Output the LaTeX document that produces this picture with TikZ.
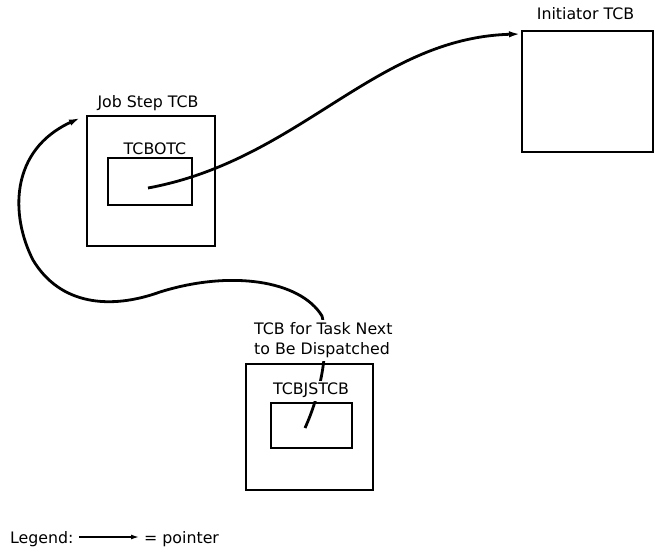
\documentclass[tikz,border=0pt]{standalone}
\usepackage{fontspec}
\setmainfont{DejaVu Sans}
\usetikzlibrary{arrows.meta}
\begin{document}
\begin{tikzpicture}[x=1pt,y=-1pt,
  box/.style={draw,line width=1.4pt,inner sep=0pt},
  ptr/.style={line width=2.8pt,-{Latex[length=11pt,width=6.5pt]}},
  lbl/.style={font=\fontsize{15.8}{20}\selectfont,inner sep=0pt},
  mask/.style={lbl,fill=white,inner xsep=2pt,inner ysep=2.5pt}]
\useasboundingbox (0,0) rectangle (662,548);
% boxes
\node[box,minimum width=128pt,minimum height=130pt] (js) at (151,181) {};
\node[box,minimum width=84pt,minimum height=47pt] (otc) at (150,181.5) {};
\node[box,minimum width=131pt,minimum height=121pt] (init) at (587.5,91.5) {};
\node[box,minimum width=127pt,minimum height=126pt] (next) at (309.5,427) {};
\node[box,minimum width=81pt,minimum height=45pt] (jstcb) at (311.5,425.5) {};
% connector end points
\coordinate (otcp) at (148,188);
\coordinate (initp) at (520,34);
\coordinate (jstcbp) at (305,428);
\coordinate (jsp) at (80,118);
% pointers
\draw[ptr] (otcp) .. controls (300,160) and (375,38) .. (initp);
\draw[ptr] (jstcbp) .. controls (320,395) and (330,350) .. (322,316)
  .. controls (300,280) and (230,270) .. (160,292)
  .. controls (110,310) and (60,305) .. (33,260)
  .. controls (10,215) and (10,150) .. (jsp);
% labels
\node[lbl,anchor=base] (jsl) at (148,108) {Job Step TCB};
\node[lbl,anchor=base] (otcl) at (155,155) {TCBOTC};
\node[lbl,anchor=base] (initl) at (585.5,20) {Initiator TCB};
\node[mask,anchor=base west,align=left] (nextl) at (252,355) {TCB for Task Next\\to Be Dispatched};
\node[mask,anchor=base] (jstcbl) at (311,395) {TCBJSTCB};
% legend
\node[lbl,anchor=base west] (leg) at (10,543) {Legend:};
\node[lbl,anchor=base west] (legp) at (144,543) {= pointer};
\coordinate (la) at (79,537);
\coordinate (lb) at (139,537);
\draw[line width=1.4pt,-{Latex[length=8pt,width=5pt]}] (la) -- (lb);
\end{tikzpicture}
\end{document}
